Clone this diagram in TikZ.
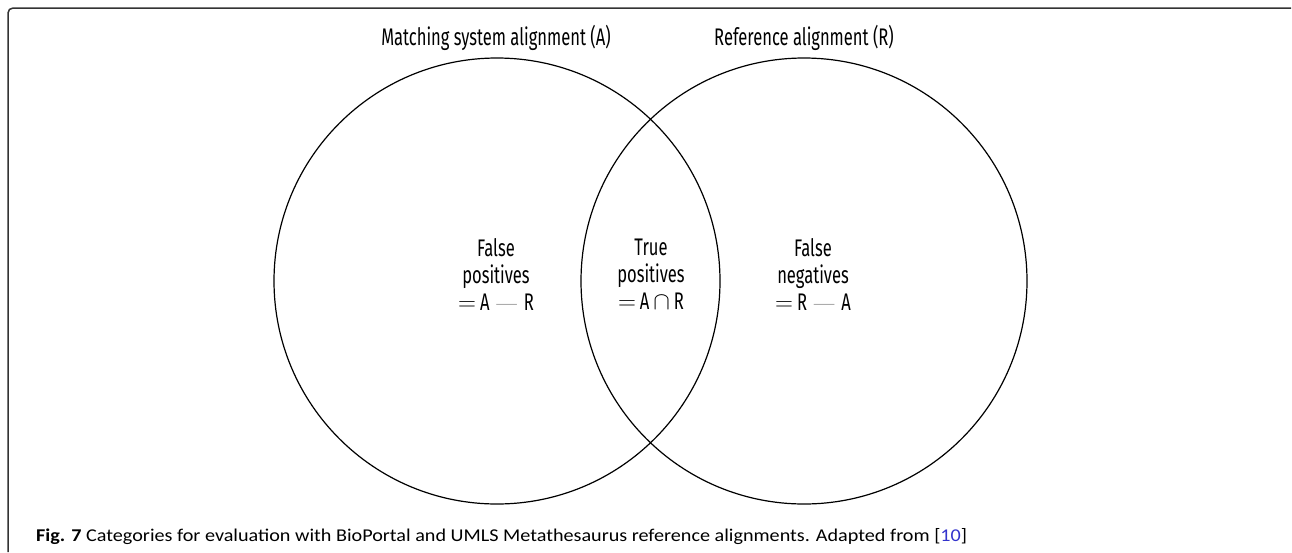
\documentclass[tikz,border=0pt]{standalone}
\usepackage{fontspec}
\newfontfamily\condfont[FakeStretch=0.69]{Fira Sans}
\newfontfamily\capfont[FakeStretch=1.12]{Carlito}
\definecolor{framecol}{HTML}{333333}
\definecolor{linkblue}{HTML}{3333CC}
\newcommand{\setdiffdash}{\hspace{7pt}{\normalfont\fontsize{22}{26}\selectfont\textemdash}\hspace{7pt}}
\tikzset{
  venn/.style={circle, draw=black, line width=1.2pt, minimum size=446pt, inner sep=0pt, outer sep=0pt},
  settitle/.style={font=\condfont\fontsize{24}{26}\selectfont, anchor=base, inner sep=0pt},
  region/.style={font=\condfont\fontsize{24}{27}\selectfont, align=center, inner sep=0pt},
  captext/.style={font=\capfont\fontsize{18}{20}\selectfont, anchor=base west, inner sep=0pt}
}
\begin{document}
\begin{tikzpicture}[x=1pt,y=-1pt]
\useasboundingbox (0,0) rectangle (1292,552);
\coordinate (fb) at (8,552);
\coordinate (fc) at (8,8);
\coordinate (fr) at (1291,8);
\draw[framecol, line width=1.5pt, rounded corners=5pt] (fb) -- (fc) -- (fr);
\node[venn] (A) at (497,281) {};
\node[venn] (R) at (804,281) {};
\node[settitle] (tA) at (496,45) {Matching system alignment (A)};
\node[settitle] (tR) at (804,45) {Reference alignment (R)};
\node[region] (fp) at (496,274) {False\\positives\\$=$\hspace{4pt}A\setdiffdash R};
\node[region] (tp) at (651,274) {True\\positives\\$=$\hspace{4pt}A\hspace{4pt}$\cap$\hspace{4pt}R};
\node[region] (fn) at (813,274) {False\\negatives\\$=$\hspace{4pt}R\setdiffdash A};
\node[captext] (cap) at (36,541) {\textbf{Fig. 7} Categories for evaluation with BioPortal and UMLS Metathesaurus reference alignments. Adapted from [{\color{linkblue}10}]};
\end{tikzpicture}
\end{document}
